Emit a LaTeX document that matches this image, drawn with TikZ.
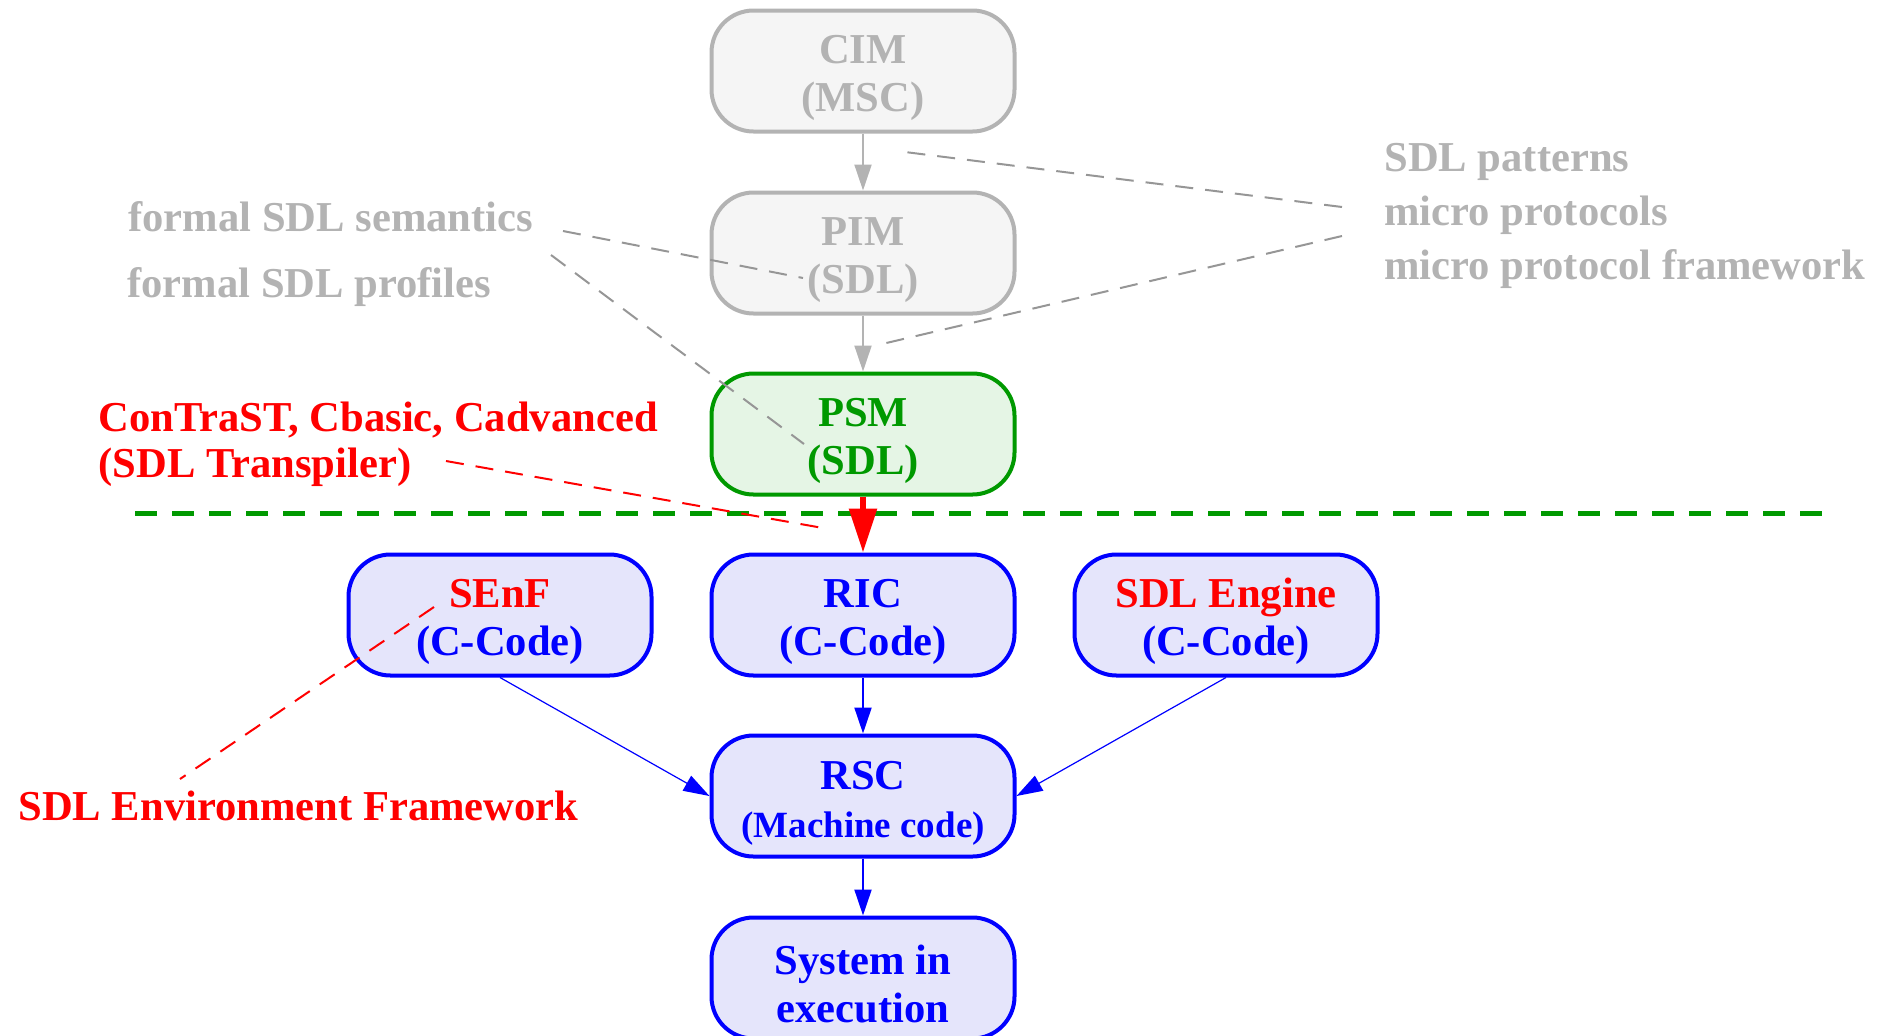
\documentclass[tikz,border=0pt]{standalone}
\usepackage{fontspec}
\setmainfont{Liberation Serif}
\usetikzlibrary{arrows.meta}

\definecolor{lgray}{RGB}{179,179,179}
\definecolor{lgrayfill}{RGB}{245,245,245}
\definecolor{dashgray}{RGB}{150,150,150}
\definecolor{mgreen}{RGB}{0,153,0}
\definecolor{lgreenfill}{RGB}{229,245,229}
\definecolor{mblue}{RGB}{0,0,255}
\definecolor{lbluefill}{RGB}{229,229,251}
\definecolor{mred}{RGB}{255,0,0}

\begin{document}
\begin{tikzpicture}[x=0.5pt,y=-0.5pt,
  model/.style={rounded corners=21pt, minimum width=151.5pt, minimum height=60.5pt,
    line width=2pt, align=center, inner sep=0pt,
    font=\bfseries\fontsize{21.3}{24}\selectfont,
    % a tall invisible strut lowers the two text lines a little in the box
    execute at begin node={\rule{0pt}{45pt}}},
  graymodel/.style={model, draw=lgray, fill=lgrayfill, text=lgray},
  greenmodel/.style={model, draw=mgreen, fill=lgreenfill, text=mgreen},
  bluemodel/.style={model, draw=mblue, fill=lbluefill, text=mblue},
  note/.style={anchor=base west, inner sep=0pt, font=\bfseries\fontsize{21.3}{24}\selectfont},
  graynote/.style={note, text=lgray},
  rednote/.style={note, text=mred},
  grayflow/.style={draw=lgray, line width=1pt, -{Triangle[length=13pt,width=8.5pt]}},
  redflow/.style={draw=mred, line width=3pt, -{Triangle[length=22pt,width=13.5pt]}},
  blueflow/.style={draw=mblue, line width=1pt, -{Triangle[length=13pt,width=8.5pt]}},
  bluethin/.style={draw=mblue, line width=0.6pt, -{Triangle[length=13pt,width=8.5pt]}},
  graylink/.style={draw=dashgray, line width=1pt, dash pattern=on 9pt off 6pt},
  redlink/.style={draw=mred, line width=1pt, dash pattern=on 9pt off 6pt},
  boundary/.style={draw=mgreen, line width=2.5pt, dash pattern=on 11pt off 7.5pt}
]
\useasboundingbox (0,0) rectangle (1879,1035);

% model levels
\node[graymodel]  (cim)  at (863,71)  {CIM\\(MSC)};
\node[graymodel]  (pim)  at (863,253) {PIM\\(SDL)};
\node[greenmodel] (psm)  at (863,434) {PSM\\(SDL)};
\node[bluemodel]  (senf) at (500,615) {\textcolor{mred}{SEnF}\\(C-Code)};
\node[bluemodel]  (ric)  at (863,615) {RIC\\(C-Code)};
\node[bluemodel]  (sdle) at (1226,615) {\textcolor{mred}{SDL Engine}\\(C-Code)};
\node[bluemodel]  (rsc)  at (863,796) {RSC\\{\fontsize{18.5}{21}\selectfont (Machine code)}};
\node[bluemodel]  (sys)  at (863,978) {System in\\execution};

% annotations
\node[graynote] (sem)  at (128,231)  {formal SDL semantics};
\node[graynote] (prof) at (127,297)  {formal SDL profiles};
\node[graynote] (pat)  at (1384,171) {SDL patterns};
\node[graynote] (mp)   at (1384,225) {micro protocols};
\node[graynote] (mpf)  at (1384,279) {micro protocol framework};
\node[rednote]  (tools) at (98,431)  {ConTraST, Cbasic, Cadvanced};
\node[rednote]  (trans) at (98,477)  {(SDL Transpiler)};
\node[rednote]  (envf)  at (18,820)  {SDL Environment Framework};

% platform boundary
\coordinate (sepL) at (135,513);
\coordinate (sepR) at (1827,513);
\draw[boundary] (sepL) -- (sepR);

% transformation flow
\draw[grayflow] (cim) -- (pim);
\draw[grayflow] (pim) -- (psm);
\draw[redflow]  (psm) -- (ric);
\draw[blueflow] (ric) -- (rsc);
\draw[bluethin] (senf.south) -- (rsc.west);
\draw[bluethin] (sdle.south) -- (rsc.east);
\draw[blueflow] (rsc) -- (sys);

% annotation links
\coordinate (semA) at (563,231);  \coordinate (semB) at (803,278);
\coordinate (profA) at (551,255); \coordinate (profB) at (804,444);
\coordinate (patA) at (1342,207); \coordinate (patB) at (897,151);
\coordinate (mpA) at (1342,236);  \coordinate (mpB) at (882,344);
\coordinate (trA) at (446,461);   \coordinate (trB) at (823,528);
\coordinate (enA) at (434,607);   \coordinate (enB) at (180,779);
\draw[graylink] (semA) -- (semB);
\draw[graylink] (profA) -- (profB);
\draw[graylink] (patA) -- (patB);
\draw[graylink] (mpA) -- (mpB);
\draw[redlink] (trA) -- (trB);
\draw[redlink] (enA) -- (enB);
\end{tikzpicture}
\end{document}
